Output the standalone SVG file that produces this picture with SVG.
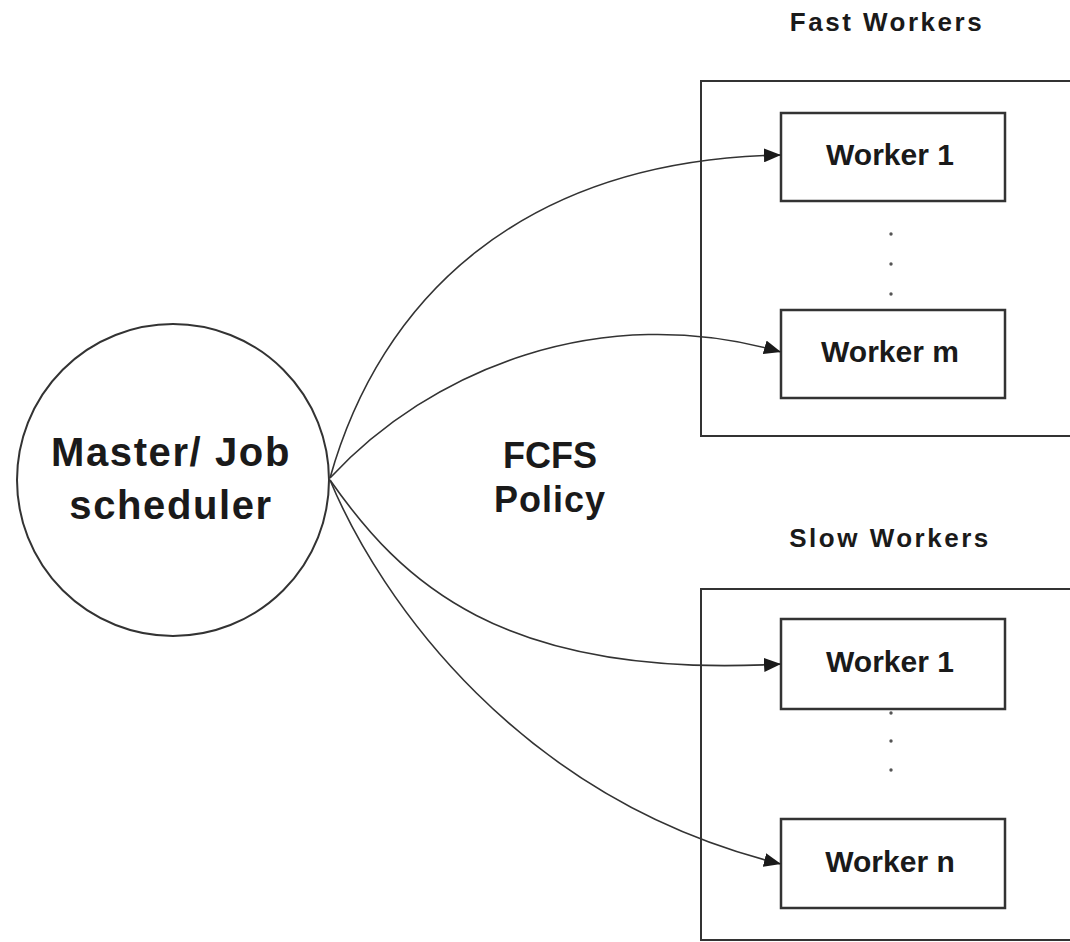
<svg xmlns="http://www.w3.org/2000/svg" width="1070" height="942" viewBox="0 0 1070 942">
<defs>
<style>
.lbl{font-family:"Liberation Sans",Arial,sans-serif;font-weight:bold;fill:#1a1a1a;text-anchor:middle}
.grp{fill:none;stroke:#333;stroke-width:2}
.wk{fill:#fff;stroke:#333;stroke-width:2.5}
.edge{fill:none;stroke:#333;stroke-width:1.6}
.dot{fill:#555}
</style>
<marker id="arr" markerUnits="userSpaceOnUse" markerWidth="18" markerHeight="14" refX="17" refY="7" orient="auto">
<path d="M0,0 L17,7 L0,14 Z" fill="#1a1a1a"/>
</marker>
</defs>
<rect width="1070" height="942" fill="#fff"/>

<g id="master">
<circle cx="173" cy="480" r="156" fill="#fff" stroke="#333" stroke-width="2"/>
<text class="lbl" x="171" y="466" font-size="40" letter-spacing="1.6">Master/ Job</text>
<text class="lbl" x="171" y="519" font-size="40" letter-spacing="1.6">scheduler</text>
</g>

<g id="policy">
<text class="lbl" x="550" y="468" font-size="36">FCFS</text>
<text class="lbl" x="550" y="512" font-size="36" letter-spacing="1">Policy</text>
</g>

<g id="fast-workers">
<text class="lbl" x="887" y="31" font-size="26" letter-spacing="2.5">Fast Workers</text>
<rect class="grp" x="701" y="81" width="400" height="355"/>
<g id="fast-worker-1">
<rect class="wk" x="781" y="113" width="224" height="88"/>
<text class="lbl" x="890" y="165" font-size="30">Worker 1</text>
</g>
<circle class="dot" cx="891" cy="234" r="1.7"/>
<circle class="dot" cx="891" cy="264" r="1.7"/>
<circle class="dot" cx="891" cy="294" r="1.7"/>
<g id="fast-worker-m">
<rect class="wk" x="781" y="310" width="224" height="88"/>
<text class="lbl" x="890" y="362" font-size="30">Worker m</text>
</g>
</g>

<g id="slow-workers">
<text class="lbl" x="890" y="547" font-size="26" letter-spacing="2.5">Slow Workers</text>
<rect class="grp" x="701" y="589" width="400" height="351"/>
<g id="slow-worker-1">
<rect class="wk" x="781" y="619" width="224" height="90"/>
<text class="lbl" x="890" y="672" font-size="30">Worker 1</text>
</g>
<circle class="dot" cx="891" cy="713" r="1.7"/>
<circle class="dot" cx="891" cy="741" r="1.7"/>
<circle class="dot" cx="891" cy="770" r="1.7"/>
<g id="slow-worker-n">
<rect class="wk" x="781" y="819" width="224" height="89"/>
<text class="lbl" x="890" y="872" font-size="30">Worker n</text>
</g>
</g>

<g id="connectors">
<path class="edge" d="M330,478 C380,300 520,160 781,155" marker-end="url(#arr)"/>
<path class="edge" d="M330,478 C430,370 600,300 781,352" marker-end="url(#arr)"/>
<path class="edge" d="M330,480 C400,580 500,680 781,664" marker-end="url(#arr)"/>
<path class="edge" d="M330,480 C380,600 520,800 781,864" marker-end="url(#arr)"/>
</g>
</svg>
